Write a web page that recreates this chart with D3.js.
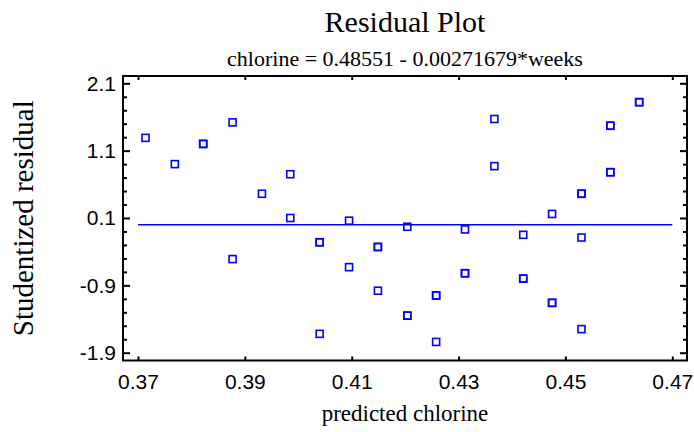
<!DOCTYPE html>
<html>
<head>
<meta charset="utf-8">
<script src="https://cdn.jsdelivr.net/npm/d3@7"></script>
<style>
  html, body { margin: 0; padding: 0; background: #fff; }
  svg { display: block; }
</style>
</head>
<body>
<script>
// ---- data ----
const predicted = [
  0.3714, 0.3769, 0.3822, 0.3822, 0.3877, 0.3877, 0.3932, 0.3985, 0.3985,
  0.4040, 0.4040, 0.4040, 0.4095, 0.4095, 0.4149, 0.4149, 0.4149,
  0.4204, 0.4204, 0.4204, 0.4258, 0.4258, 0.4258, 0.4312, 0.4312, 0.4312,
  0.4367, 0.4367, 0.4421, 0.4421, 0.4421, 0.4475, 0.4475, 0.4475,
  0.4530, 0.4530, 0.4530, 0.4530, 0.4584, 0.4584, 0.4584, 0.4584,
  0.4638, 0.4638
];
const residual = [
  1.29, 0.90, 1.20, 1.20, 1.52, -0.51, 0.46, 0.75, 0.10,
  -0.26, -0.26, -1.62, 0.06, -0.63, -0.33, -0.33, -0.98,
  -0.03, -1.35, -1.35, -1.05, -1.05, -1.74, -0.07, -0.72, -0.72,
  1.57, 0.87, -0.15, -0.80, -0.80, 0.16, -1.16, -1.16,
  0.46, 0.46, -0.19, -1.55, 1.47, 1.47, 0.78, 0.78,
  1.82, 1.82
];
const xTicks = [0.37, 0.39, 0.41, 0.43, 0.45, 0.47];
const yTicks = [-1.9, -0.9, 0.1, 1.1, 2.1];
const yTickLabels = ["-1.9", "-0.9", "0.1", "1.1", "2.1"];
const xTickLabels = ["0.37", "0.39", "0.41", "0.43", "0.45", "0.47"];
const yMinorTicks = [-1.7, -1.5, -1.3, -1.1, -0.7, -0.5, -0.3, -0.1, 0.3, 0.5, 0.7, 0.9, 1.3, 1.5, 1.7, 1.9];
const zeroLine = [0.37, 0.47];
const titleText = "Residual Plot";
const subtitleText = "chlorine = 0.48551 - 0.00271679*weeks";
const xLabel = "predicted chlorine";
const yLabel = "Studentized residual";

// ---- layout ----
const W = 694, H = 432;
const L = 123, R = 687, T = 76, B = 360.5;
const serif = "'Liberation Serif', 'Times New Roman', serif";
const sans = "'Liberation Sans', Arial, sans-serif";

const svg = d3.select("body").append("svg").attr("width", W).attr("height", H);

const x = d3.scaleLinear().domain([0.367193, 0.472751]).range([L, R]);
const y = d3.scaleLinear().domain([-2.0158, 2.2084]).range([B, T]);

// zero line
svg.append("line")
  .attr("x1", x(zeroLine[0])).attr("x2", x(zeroLine[1]))
  .attr("y1", y(0)).attr("y2", y(0))
  .attr("stroke", "#0000ff").attr("stroke-width", 1.6);

// points
const pts = predicted.map((p, i) => ({ p, r: residual[i] }));
const s = 7;
svg.append("g").selectAll("rect").data(pts).join("rect")
  .attr("x", d => x(d.p) - s / 2)
  .attr("y", d => y(d.r) - s / 2)
  .attr("width", s).attr("height", s)
  .attr("fill", "none")
  .attr("stroke", "#0000ff").attr("stroke-width", 1.6);

// axes
function styleAxis(g) {
  g.select(".domain").remove();
  g.selectAll(".tick line").attr("stroke", "#000").attr("stroke-width", 2);
  g.selectAll(".tick text").attr("fill", "#000").style("font-family", sans).style("font-size", "21px");
}
svg.append("g").attr("transform", `translate(${L},0)`)
  .call(d3.axisLeft(y).tickValues(yTicks).tickSize(-7).tickPadding(7)
    .tickFormat((d, i) => yTickLabels[i]))
  .call(styleAxis);
svg.append("g").attr("transform", `translate(${L},0)`)
  .call(d3.axisLeft(y).tickValues(yMinorTicks).tickSize(-4).tickFormat(""))
  .call(styleAxis);
svg.append("g").attr("transform", `translate(${R},0)`)
  .call(d3.axisRight(y).tickValues(yTicks).tickSize(-7).tickFormat(""))
  .call(styleAxis);
svg.append("g").attr("transform", `translate(${R},0)`)
  .call(d3.axisRight(y).tickValues(yMinorTicks).tickSize(-4).tickFormat(""))
  .call(styleAxis);
svg.append("g").attr("transform", `translate(0,${B})`)
  .call(d3.axisBottom(x).tickValues(xTicks).tickSize(-4).tickPadding(14)
    .tickFormat((d, i) => xTickLabels[i]))
  .call(styleAxis);
svg.append("g").attr("transform", `translate(0,${T})`)
  .call(d3.axisTop(x).tickValues(xTicks).tickSize(-4).tickFormat(""))
  .call(styleAxis);

// frame
svg.append("rect")
  .attr("x", L).attr("y", T).attr("width", R - L).attr("height", B - T)
  .attr("fill", "none").attr("stroke", "#000").attr("stroke-width", 2);

// titles
const cx = (L + R) / 2;
svg.append("text").attr("x", cx).attr("y", 32).attr("text-anchor", "middle")
  .style("font-family", serif).style("font-size", "30px").text(titleText);
svg.append("text").attr("x", cx).attr("y", 66).attr("text-anchor", "middle")
  .style("font-family", serif).style("font-size", "22px").text(subtitleText);
svg.append("text").attr("x", cx).attr("y", 421).attr("text-anchor", "middle")
  .style("font-family", serif).style("font-size", "23px").text(xLabel);
svg.append("text").attr("transform", `translate(33,${(T + B) / 2}) rotate(-90)`)
  .attr("text-anchor", "middle")
  .style("font-family", serif).style("font-size", "29px").text(yLabel);
</script>
</body>
</html>
